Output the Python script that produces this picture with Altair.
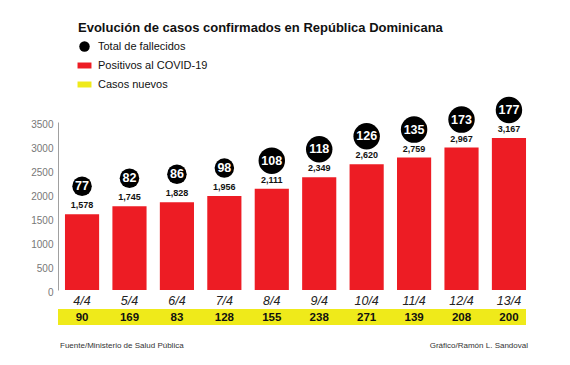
import altair as alt
import pandas as pd

# ---- data ----
fechas = ["4/4", "5/4", "6/4", "7/4", "8/4", "9/4", "10/4", "11/4", "12/4", "13/4"]
positivos = [1578, 1745, 1828, 1956, 2111, 2349, 2620, 2759, 2967, 3167]
fallecidos = [77, 82, 86, 98, 108, 118, 126, 135, 173, 177]
nuevos = [90, 169, 83, 128, 155, 238, 271, 139, 208, 200]
y_ticks = [0, 500, 1000, 1500, 2000, 2500, 3000, 3500]

series = ["Total de fallecidos", "Positivos al COVID-19", "Casos nuevos"]
colores = ["#000000", "#ED1C24", "#EFEA1A"]

titulo = ["Evolución de casos confirmados en República Dominicana"]
fuente = ["Fuente/Ministerio de Salud Pública"]
credito = ["Gráfico/Ramón L. Sandoval"]

NARROW = "Liberation Sans Narrow, Liberation Sans, sans-serif"
SANS = "Liberation Sans, Arial, sans-serif"

df = pd.DataFrame({
    "fecha": fechas,
    "positivos": positivos,
    "fallecidos": fallecidos,
    "nuevos": nuevos,
})
df["positivos_txt"] = [f"{v:,}" for v in positivos]
df["s_bar"] = series[1]
df["s_dot"] = series[0]

band_df = pd.DataFrame({"serie": [series[2]]})

rect_path = "M-1.33,-0.57H1.33V0.57H-1.33Z"
color_scale = alt.Scale(domain=series, range=colores)
shape_scale = alt.Scale(domain=series, range=["circle", rect_path, rect_path])

legend = alt.Legend(
    title=None, orient="none", legendX=21, legendY=-81,
    symbolSize=110, symbolStrokeWidth=0, padding=0,
    labelFont=NARROW, labelFontSize=11, labelColor="#111",
    labelOffset=8, rowPadding=7,
)

x_enc = alt.X(
    "fecha:N", sort=fechas,
    scale=alt.Scale(paddingInner=0.28, paddingOuter=0.147),
    axis=alt.Axis(
        title=None, domain=False, ticks=False, labelAngle=0,
        labelFont=NARROW, labelFontStyle="italic", labelFontSize=12.5,
        labelColor="#222", labelBaseline="middle", labelPadding=10,
    ),
)
y_enc = alt.Y(
    "positivos:Q",
    scale=alt.Scale(domain=[0, 3500], nice=False),
    axis=alt.Axis(
        title=None, values=y_ticks, grid=False, ticks=False, format="d",
        domainColor="#a0a0a0", domainWidth=1,
        labelFont=NARROW, labelFontSize=10, labelColor="#777",
        labelPadding=5, labelOffset=2,
    ),
)

base = alt.Chart(df).encode(x=x_enc, y=y_enc)

bars = base.mark_bar().encode(
    color=alt.Color("s_bar:N", scale=color_scale, legend=legend)
)

labels = base.mark_text(
    dy=-9, baseline="middle", font=NARROW, fontWeight="bold", fontSize=9, color="#111"
).encode(text="positivos_txt:N")

dots = base.mark_point(filled=True, opacity=1, yOffset=-28, strokeWidth=0).encode(
    color=alt.Color("s_dot:N", scale=color_scale, legend=legend),
    shape=alt.Shape("s_dot:N", scale=shape_scale, legend=legend),
    size=alt.Size(
        "fallecidos:Q",
        scale=alt.Scale(type="threshold", domain=[100], range=[380, 700]),
        legend=None,
    ),
)

dot_text = base.mark_text(
    dy=-28, baseline="middle", font=SANS, fontWeight="bold", fontSize=12.5, color="white"
).encode(text="fallecidos:Q")

band = alt.Chart(band_df).mark_rect().encode(
    x=alt.value(0), x2=alt.value(468), y=alt.value(187), y2=alt.value(203),
    color=alt.Color("serie:N", scale=color_scale, legend=legend),
)

band_text = alt.Chart(df).mark_text(
    baseline="middle", font=SANS, fontWeight="bold", fontSize=11.5, color="#111"
).encode(x=x_enc, y=alt.value(195.5), text="nuevos:Q")

title_txt = alt.Chart(pd.DataFrame({"t": titulo})).mark_text(
    align="left", baseline="alphabetic", font=NARROW, fontWeight="bold",
    fontSize=13, color="#111",
).encode(x=alt.value(20), y=alt.value(-90), text="t:N")

fuente_txt = alt.Chart(pd.DataFrame({"t": fuente})).mark_text(
    align="left", baseline="middle", font=NARROW, fontSize=8, color="#333",
).encode(x=alt.value(2), y=alt.value(224), text="t:N")

credito_txt = alt.Chart(pd.DataFrame({"t": credito})).mark_text(
    align="right", baseline="middle", font=NARROW, fontSize=8, color="#333",
).encode(x=alt.value(470), y=alt.value(224), text="t:N")

chart = alt.layer(
    bars, labels, dots, dot_text, band, band_text, title_txt, fuente_txt, credito_txt
).properties(
    width=475, height=168,
    padding={"left": 50, "top": 114, "right": 29, "bottom": 67},
    autosize=alt.AutoSizeParams(type="none"),
    background="white",
).configure_view(stroke=None)

chart.save("out.html", embed_options={"renderer": "svg", "actions": False})
